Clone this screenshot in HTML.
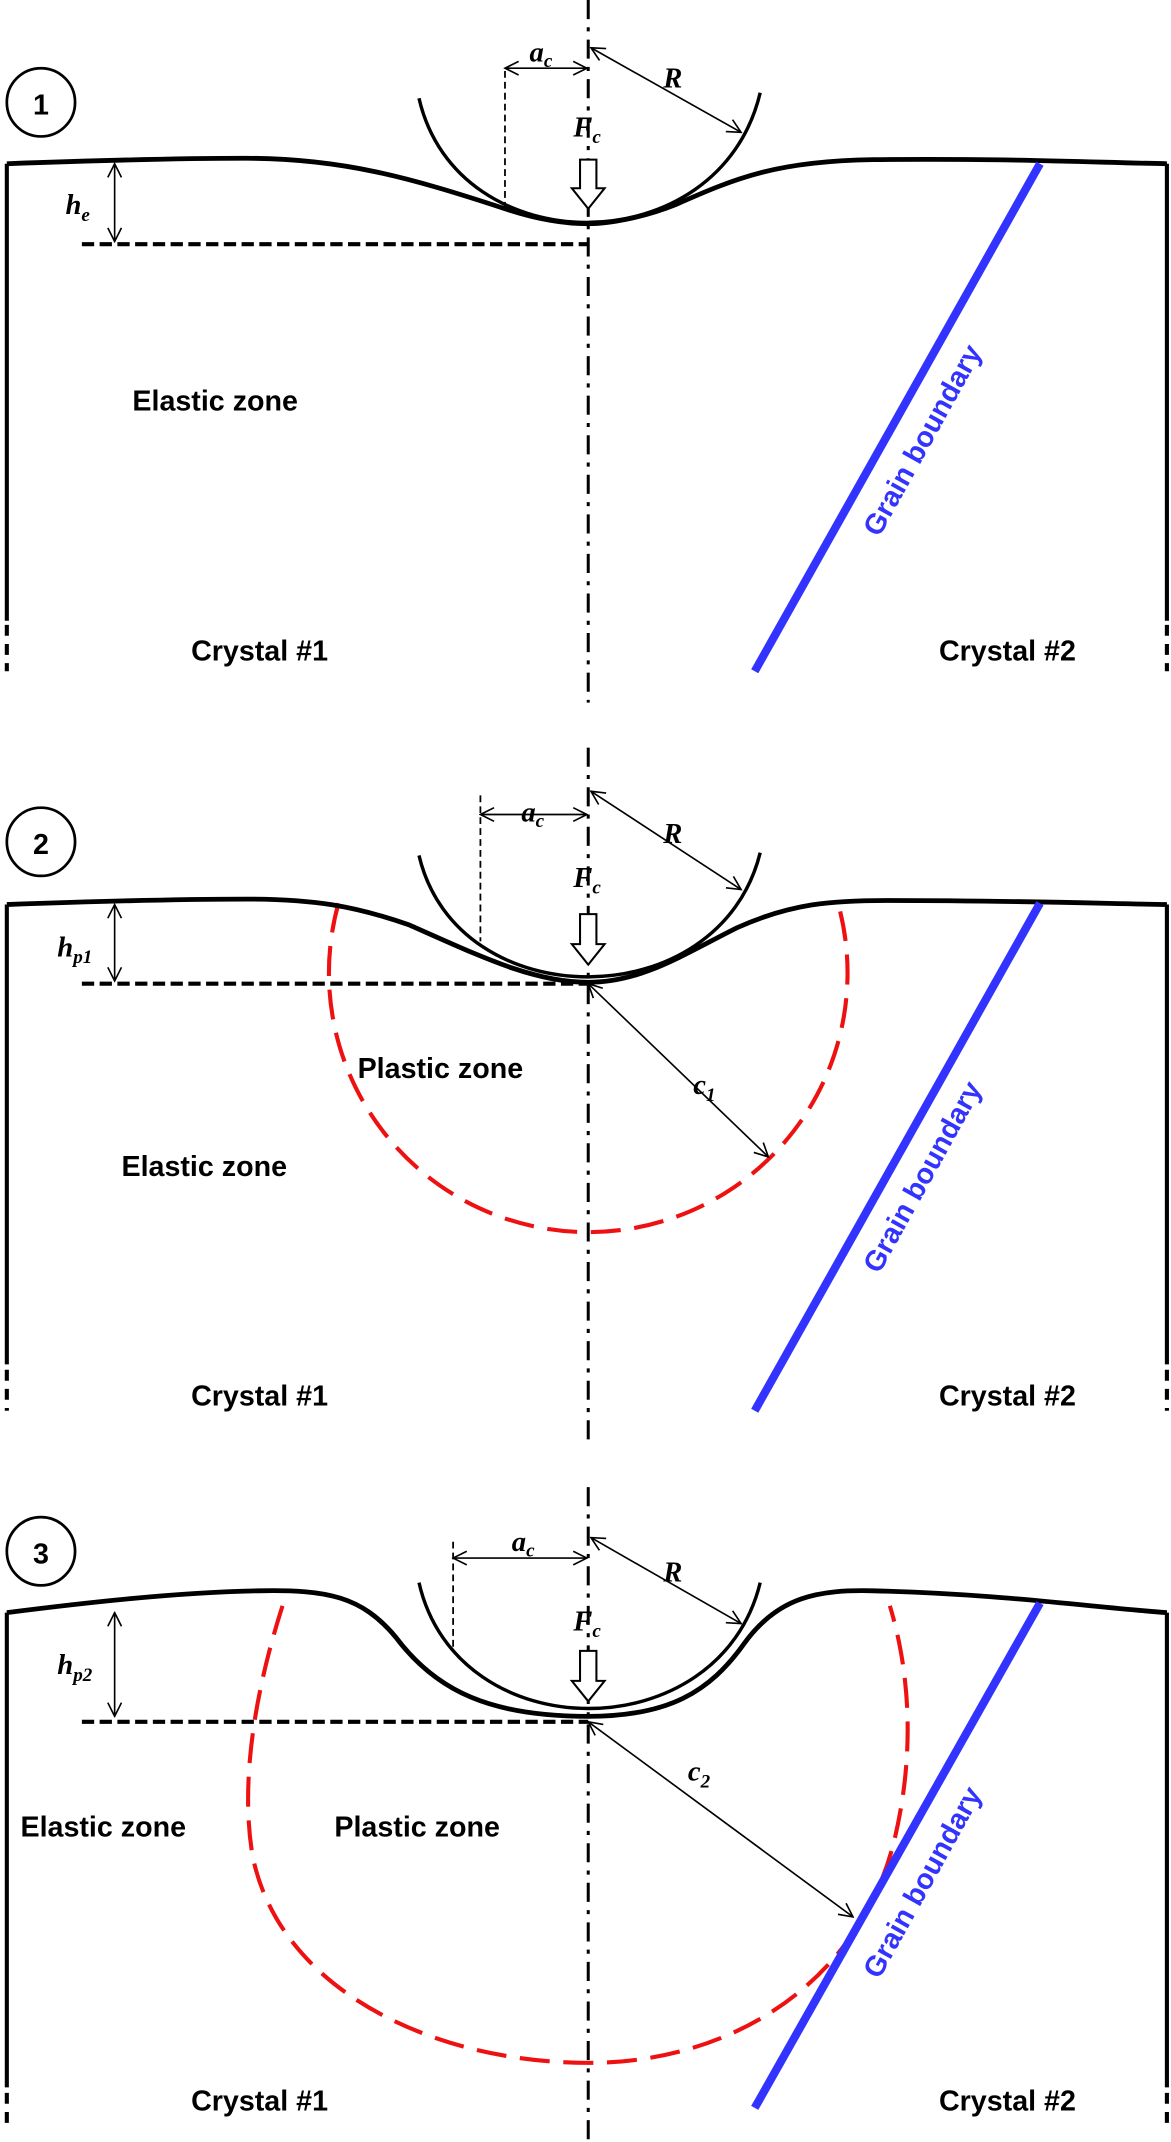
<!DOCTYPE html>
<html><head><meta charset="utf-8"><style>
html,body{margin:0;padding:0;background:#fff}
svg{display:block}
.lab{font-family:"Liberation Sans",sans-serif;font-weight:bold;font-size:21px}
.it{font-family:"Liberation Serif",serif;font-style:italic;font-weight:bold;font-size:21px}
.sub{font-size:14px}
</style></head><body>
<svg width="1171" height="2142" viewBox="0 0 858 1570" preserveAspectRatio="none" xmlns="http://www.w3.org/2000/svg">
<defs>
<marker id="ah" markerWidth="12" markerHeight="12" refX="11" refY="6" orient="auto-start-reverse" markerUnits="userSpaceOnUse"><path d="M1,1 L11,6 L1,11" fill="none" stroke="#000" stroke-width="1.2"/></marker>
</defs>

<!-- PANEL 1 -->
<g>
<circle cx="30" cy="75" r="25" fill="none" stroke="#000" stroke-width="2"/>
<text class="lab" x="30" y="84" text-anchor="middle" font-size="24">1</text>
<line x1="431" y1="0" x2="431" y2="515" stroke="#000" stroke-width="2.2" stroke-dasharray="14,6,3,6"/>
<path d="M5,120 C60,118 120,116 180,116 C250,116 300,130 370,153 C400,163 420,164 431,164 C445,164 470,160 495,150 C540,130 570,118 640,117 C740,116 800,119 855,120" fill="none" stroke="#000" stroke-width="3.5"/>
<path d="M5,120 V455" stroke="#000" stroke-width="3"/>
<path d="M5,458 V492" stroke="#000" stroke-width="3" stroke-dasharray="8,6"/>
<path d="M855,120 V455" stroke="#000" stroke-width="3"/>
<path d="M855,458 V492" stroke="#000" stroke-width="3" stroke-dasharray="8,6"/>
<path d="M307,72 C335,194 527,194 557,68" fill="none" stroke="#000" stroke-width="2.5"/>
<line x1="433" y1="35" x2="543" y2="97" stroke="#000" stroke-width="1.2" marker-start="url(#ah)" marker-end="url(#ah)"/>
<text class="it" x="486" y="64">R</text>
<line x1="370" y1="50" x2="430" y2="50" stroke="#000" stroke-width="1.2" marker-start="url(#ah)" marker-end="url(#ah)"/>
<line x1="370" y1="52" x2="370" y2="152" stroke="#000" stroke-width="1.3" stroke-dasharray="5,3"/>
<text class="it" x="388" y="45">a<tspan class="sub" dy="4">c</tspan></text>
<text class="it" x="420" y="100">F<tspan class="sub" dy="5">c</tspan></text>
<path d="M425,117 H437 V138 H443 L431,153 L419,138 H425 Z" fill="#fff" stroke="#000" stroke-width="1.5"/>
<line x1="84" y1="120" x2="84" y2="177" stroke="#000" stroke-width="1.2" marker-start="url(#ah)" marker-end="url(#ah)"/>
<text class="it" x="48" y="157">h<tspan class="sub" dy="5">e</tspan></text>
<line x1="60" y1="179" x2="431" y2="179" stroke="#000" stroke-width="3" stroke-dasharray="9,4"/>
<text class="lab" x="97" y="301">Elastic zone</text>
<text class="lab" x="140" y="484">Crystal #1</text>
<text class="lab" x="688" y="484">Crystal #2</text>
<line x1="762" y1="120" x2="553" y2="492" stroke="#3333ff" stroke-width="6"/>
<text class="lab" fill="#3333ff" font-size="22" transform="translate(682,326) rotate(-61)" text-anchor="middle">Grain boundary</text>
</g>

<!-- PANEL 2 -->
<g>
<circle cx="30" cy="617" r="25" fill="none" stroke="#000" stroke-width="2"/>
<text class="lab" x="30" y="626" text-anchor="middle" font-size="24">2</text>
<line x1="431" y1="548" x2="431" y2="1060" stroke="#000" stroke-width="2.2" stroke-dasharray="14,6,3,6"/>
<path d="M248,662 A190,190 0 1 0 614,662" fill="none" stroke="#ee1111" stroke-width="3" stroke-dasharray="22,10"/>
<path d="M5,663 C60,661 120,659 180,659 C230,659 260,664 300,678 C350,700 390,720 431,720 C470,720 500,700 540,680 C580,662 610,660 650,660 C740,660 800,662 855,663" fill="none" stroke="#000" stroke-width="3.5"/>
<path d="M5,663 V1000" stroke="#000" stroke-width="3"/>
<path d="M5,1004 V1034" stroke="#000" stroke-width="3" stroke-dasharray="8,6"/>
<path d="M855,663 V1000" stroke="#000" stroke-width="3"/>
<path d="M855,1004 V1034" stroke="#000" stroke-width="3" stroke-dasharray="8,6"/>
<path d="M307,627 C335,746 527,746 557,625" fill="none" stroke="#000" stroke-width="2.5"/>
<line x1="433" y1="580" x2="543" y2="652" stroke="#000" stroke-width="1.2" marker-start="url(#ah)" marker-end="url(#ah)"/>
<text class="it" x="486" y="618">R</text>
<line x1="352" y1="597" x2="430" y2="597" stroke="#000" stroke-width="1.2" marker-start="url(#ah)" marker-end="url(#ah)"/>
<line x1="352" y1="583" x2="352" y2="690" stroke="#000" stroke-width="1.3" stroke-dasharray="5,3"/>
<text class="it" x="382" y="602">a<tspan class="sub" dy="4">c</tspan></text>
<text class="it" x="420" y="650">F<tspan class="sub" dy="5">c</tspan></text>
<path d="M425,670 H437 V692 H443 L431,707 L419,692 H425 Z" fill="#fff" stroke="#000" stroke-width="1.5"/>
<line x1="84" y1="663" x2="84" y2="719" stroke="#000" stroke-width="1.2" marker-start="url(#ah)" marker-end="url(#ah)"/>
<text class="it" x="42" y="701">h<tspan class="sub" dy="5">p1</tspan></text>
<line x1="60" y1="721" x2="431" y2="721" stroke="#000" stroke-width="3" stroke-dasharray="9,4"/>
<line x1="431" y1="721" x2="563" y2="848" stroke="#000" stroke-width="1.2" marker-start="url(#ah)" marker-end="url(#ah)"/>
<text class="it" x="508" y="802">c<tspan class="sub" dy="5">1</tspan></text>
<text class="lab" x="262" y="790">Plastic zone</text>
<text class="lab" x="89" y="862">Elastic zone</text>
<text class="lab" x="140" y="1030">Crystal #1</text>
<text class="lab" x="688" y="1030">Crystal #2</text>
<line x1="762" y1="662" x2="553" y2="1034" stroke="#3333ff" stroke-width="6"/>
<text class="lab" fill="#3333ff" font-size="22" transform="translate(682,866) rotate(-61)" text-anchor="middle">Grain boundary</text>
</g>

<!-- PANEL 3 -->
<g>
<circle cx="30" cy="1137" r="25" fill="none" stroke="#000" stroke-width="2"/>
<text class="lab" x="30" y="1146" text-anchor="middle" font-size="24">3</text>
<line x1="431" y1="1090" x2="431" y2="1570" stroke="#000" stroke-width="2.2" stroke-dasharray="14,6,3,6"/>
<path d="M207,1177 C190,1230 175,1300 185,1360 C205,1460 320,1512 431,1512 C540,1512 630,1450 655,1350 C672,1280 665,1220 652,1177" fill="none" stroke="#ee1111" stroke-width="3" stroke-dasharray="22,10"/>
<path d="M5,1182 C60,1175 130,1167 190,1166 C240,1165 265,1170 290,1200 C320,1240 360,1258 431,1258 C490,1258 520,1240 545,1205 C570,1170 600,1165 640,1166 C730,1168 800,1178 855,1182" fill="none" stroke="#000" stroke-width="3.5"/>
<path d="M5,1182 V1530" stroke="#000" stroke-width="3"/>
<path d="M5,1534 V1562" stroke="#000" stroke-width="3" stroke-dasharray="8,6"/>
<path d="M855,1182 V1530" stroke="#000" stroke-width="3"/>
<path d="M855,1534 V1562" stroke="#000" stroke-width="3" stroke-dasharray="8,6"/>
<path d="M307,1160 C335,1283 527,1283 557,1160" fill="none" stroke="#000" stroke-width="2.5"/>
<line x1="433" y1="1127" x2="543" y2="1190" stroke="#000" stroke-width="1.2" marker-start="url(#ah)" marker-end="url(#ah)"/>
<text class="it" x="486" y="1159">R</text>
<line x1="332" y1="1142" x2="430" y2="1142" stroke="#000" stroke-width="1.2" marker-start="url(#ah)" marker-end="url(#ah)"/>
<line x1="332" y1="1130" x2="332" y2="1210" stroke="#000" stroke-width="1.3" stroke-dasharray="5,3"/>
<text class="it" x="375" y="1137">a<tspan class="sub" dy="4">c</tspan></text>
<text class="it" x="420" y="1195">F<tspan class="sub" dy="5">c</tspan></text>
<path d="M425,1210 H437 V1232 H443 L431,1247 L419,1232 H425 Z" fill="#fff" stroke="#000" stroke-width="1.5"/>
<line x1="84" y1="1182" x2="84" y2="1258" stroke="#000" stroke-width="1.2" marker-start="url(#ah)" marker-end="url(#ah)"/>
<text class="it" x="42" y="1227">h<tspan class="sub" dy="5">p2</tspan></text>
<line x1="60" y1="1262" x2="431" y2="1262" stroke="#000" stroke-width="3" stroke-dasharray="9,4"/>
<line x1="431" y1="1262" x2="625" y2="1405" stroke="#000" stroke-width="1.2" marker-start="url(#ah)" marker-end="url(#ah)"/>
<text class="it" x="504" y="1305">c<tspan class="sub" dy="5">2</tspan></text>
<text class="lab" x="15" y="1346">Elastic zone</text>
<text class="lab" x="245" y="1346">Plastic zone</text>
<text class="lab" x="140" y="1547">Crystal #1</text>
<text class="lab" x="688" y="1547">Crystal #2</text>
<line x1="762" y1="1175" x2="553" y2="1545" stroke="#3333ff" stroke-width="6"/>
<text class="lab" fill="#3333ff" font-size="22" transform="translate(682,1383) rotate(-61)" text-anchor="middle">Grain boundary</text>
</g>
</svg>
</body></html>
